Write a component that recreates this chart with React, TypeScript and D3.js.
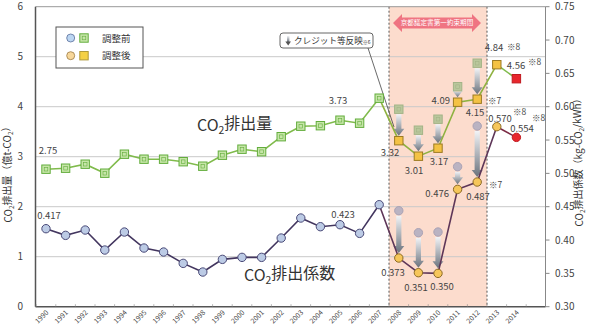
import React from "react";
import * as d3 from "d3";

const years = d3.range(1990, 2016).map(String);
const labelYears = d3.range(1990, 2015).map(String);
const beforeYears = d3.range(1990, 2013).map(String);
const afterYears = d3.range(2008, 2015).map(String);
const emissionBefore = [2.75, 2.77, 2.85, 2.67, 3.05, 2.95, 2.95, 2.9, 2.81, 3.03, 3.15, 3.1, 3.4, 3.61, 3.62, 3.73, 3.67, 4.17, 3.95, 3.53, 3.75, 4.4, 4.87];
const emissionAfter = [3.32, 3.01, 3.17, 4.09, 4.15, 4.84, 4.56];
const coefBefore = [0.417, 0.407, 0.415, 0.385, 0.412, 0.388, 0.382, 0.365, 0.352, 0.371, 0.374, 0.374, 0.403, 0.433, 0.42, 0.423, 0.41, 0.453, 0.444, 0.411, 0.412, 0.51, 0.571];
const coefAfter = [0.373, 0.351, 0.35, 0.476, 0.487, 0.57, 0.554];
const leftTicks = [0, 1, 2, 3, 4, 5, 6];
const rightTicks = [0.3, 0.35, 0.4, 0.45, 0.5, 0.55, 0.6, 0.65, 0.7, 0.75];

const FONT = "'Noto Sans CJK JP', 'Noto Sans', sans-serif";
const TOP = 6.7, BOTTOM = 306.7, LEFT = 35.5, RIGHT = 545.5;

export default function App() {
  const x = d3.scaleBand().domain(years).range([36.2, 545.8]).padding(0);
  const cx = (y: string) => (x(y) as number) + x.bandwidth() / 2;
  const yL = d3.scaleLinear().domain([0, 6]).range([BOTTOM, TOP]);
  const yR = d3.scaleLinear().domain([0.3, 0.75]).range([BOTTOM, TOP]);

  const histIdx = d3.range(0, 18); // 1990-2007
  const bandIdx = d3.range(18, 23); // 2008-2012

  const lineE = d3.line<[number, number]>().x((d) => d[0]).y((d) => d[1]);
  const ePtsHist: [number, number][] = histIdx.map((i) => [cx(beforeYears[i]), yL(emissionBefore[i])]);
  const ePtsAfter: [number, number][] = afterYears.slice(0, 6).map((y, i) => [cx(y), yL(emissionAfter[i])]);
  const cPtsHist: [number, number][] = histIdx.map((i) => [cx(beforeYears[i]), yR(coefBefore[i])]);
  const cPtsAfter: [number, number][] = afterYears.slice(0, 6).map((y, i) => [cx(y), yR(coefAfter[i])]);

  const bandX0 = x("2008") as number;
  const bandX1 = (x("2012") as number) + x.bandwidth();

  const arrow = (xc: number, y0: number, y1: number, key: string) => {
    const sw = 2.6, hw = 5.5, hl = 7;
    const p = `M${xc - sw},${y0} L${xc + sw},${y0} L${xc + sw},${y1 - hl} L${xc + hw},${y1 - hl} L${xc},${y1} L${xc - hw},${y1 - hl} L${xc - sw},${y1 - hl} Z`;
    return <path key={key} d={p} fill="url(#arrGrad)" />;
  };

  const sq = (xc: number, yc: number, fill: string, stroke: string, key: string, inner = false) => (
    <g key={key}>
      <rect x={xc - 4.2} y={yc - 4.2} width={8.4} height={8.4} fill={fill} stroke={stroke} strokeWidth={1} />
      {inner && <rect x={xc - 1.8} y={yc - 1.8} width={3.6} height={3.6} fill="none" stroke={stroke} strokeWidth={0.6} />}
    </g>
  );

  const sub = (t: string) => (
    <tspan fontSize="0.65em" dy="0.3em">{t}</tspan>
  );

  const txt = (s: string, xx: number, yy: number, anchor: string = "middle", size = 9.5, key?: string) => (
    <text key={key ?? s + xx} x={xx} y={yy} textAnchor={anchor} fontSize={size} fill="#444" fontFamily={FONT}>{s}</text>
  );

  return (
    <svg width={590} height={333} style={{ position: "absolute", left: 0, top: 0, background: "#fff" }} fontFamily={FONT}>
      <defs>
        <linearGradient id="arrGrad" x1="0" y1="0" x2="0" y2="1">
          <stop offset="0" stopColor="#f2f4f7" />
          <stop offset="1" stopColor="#6a727c" />
        </linearGradient>
      </defs>

      {/* Kyoto band */}
      <rect x={bandX0} y={TOP} width={bandX1 - bandX0} height={BOTTOM - TOP} fill="#fcdccd" />

      {/* grid */}
      {leftTicks.slice(1, 6).map((t) => (
        <line key={"g" + t} x1={LEFT} x2={RIGHT} y1={yL(t)} y2={yL(t)} stroke="#c9c9c9" strokeWidth={1} />
      ))}
      <line x1={bandX0} x2={bandX0} y1={TOP} y2={BOTTOM} stroke="#555" strokeWidth={1} strokeDasharray="2,2" />
      <line x1={bandX1} x2={bandX1} y1={TOP} y2={BOTTOM} stroke="#555" strokeWidth={1} strokeDasharray="2,2" />

      {/* frame */}
      <line x1={LEFT} x2={RIGHT} y1={TOP} y2={TOP} stroke="#999" strokeWidth={1} />
      <line x1={RIGHT} x2={RIGHT} y1={TOP} y2={BOTTOM} stroke="#888" strokeWidth={1} />
      <line x1={LEFT} x2={LEFT} y1={TOP} y2={BOTTOM} stroke="#555" strokeWidth={1.5} />
      <line x1={LEFT} x2={RIGHT} y1={BOTTOM} y2={BOTTOM} stroke="#555" strokeWidth={1.5} />

      {/* left ticks */}
      {leftTicks.map((t) => (
        <text key={"lt" + t} x={23} y={yL(t) + 3.5} textAnchor="end" fontSize={10} fill="#444">{t}</text>
      ))}
      {/* right ticks */}
      {rightTicks.map((t) => (
        <g key={"rt" + t}>
          <line x1={RIGHT} x2={RIGHT + 4} y1={yR(t)} y2={yR(t)} stroke="#888" />
          <text x={555} y={yR(t) + 3.5} fontSize={10} fill="#444">{t.toFixed(2)}</text>
        </g>
      ))}
      {/* x ticks */}
      {years.map((y) => (
        <line key={"xt" + y} x1={x(y) as number} x2={x(y) as number} y1={BOTTOM} y2={BOTTOM - 2.5} stroke="#888" strokeWidth={0.6} />
      ))}
      {labelYears.map((y) => (
        <text key={"xl" + y} transform={`translate(${cx(y) + 3},${313}) rotate(-45)`} textAnchor="end" fontSize={7} fill="#444">{y}</text>
      ))}

      {/* axis titles */}
      <text transform={`translate(12,172) rotate(-90)`} textAnchor="middle" fontSize={10} fill="#333">
        CO{sub("2")}<tspan dy="-0.3em">排出量（億t-CO</tspan>{sub("2")}<tspan dy="-0.3em">）</tspan>
      </text>
      <text transform={`translate(583,160) rotate(-90)`} textAnchor="middle" fontSize={10} fill="#333">
        CO{sub("2")}<tspan dy="-0.3em">排出係数（kg-CO</tspan>{sub("2")}<tspan dy="-0.3em">/kWh）</tspan>
      </text>

      {/* Kyoto arrow */}
      {(() => {
        const x0 = 393, x1 = 481, yc = 23, sh = 5.5, hh = 9, hl = 9;
        const p = `M${x0},${yc} L${x0 + hl},${yc - hh} L${x0 + hl},${yc - sh} L${x1 - hl},${yc - sh} L${x1 - hl},${yc - hh} L${x1},${yc} L${x1 - hl},${yc + hh} L${x1 - hl},${yc + sh} L${x0 + hl},${yc + sh} L${x0 + hl},${yc + hh} Z`;
        return (
          <g>
            <path d={p} fill="#ef7482" />
            <text x={(x0 + x1) / 2} y={yc + 2.4} textAnchor="middle" fontSize={6.6} fill="#fff">京都議定書第一約束期間</text>
          </g>
        );
      })()}

      {/* Callout */}
      <line x1={368} y1={48} x2={394} y2={127} stroke="#444" strokeWidth={0.8} />
      <rect x={280} y={33} width={93} height={15} rx={3} fill="#fff" stroke="#555" strokeWidth={0.9} />
      <rect x={287} y={36} width={2.4} height={6} fill="url(#arrGrad)" />
      <path d="M285.3,41.5 L291,41.5 L288.2,45.5 Z" fill="#555" />
      <text x={294} y={44} fontSize={8.6} fill="#333">クレジット等反映<tspan fontSize={5}>※6</tspan></text>

      {/* arrows within band */}
      {bandIdx.map((i, k) => arrow(cx(beforeYears[i]), yL(emissionBefore[i]) + 5, yL(emissionAfter[k]) - 5, "ea" + i))}
      {bandIdx.map((i, k) => arrow(cx(beforeYears[i]), yR(coefBefore[i]) + 5, yR(coefAfter[k]) - 5, "ca" + i))}
      {/* faded before markers */}
      {bandIdx.map((i) => sq(cx(beforeYears[i]), yL(emissionBefore[i]), "#b9c79c", "#a3b387", "fs" + i, true))}
      {bandIdx.map((i) => (
        <circle key={"fc" + i} cx={cx(beforeYears[i])} cy={yR(coefBefore[i])} r={4.2} fill="#bab3c2" stroke="#aaa2b4" />
      ))}

      {/* lines */}
      <path d={lineE(ePtsHist) as string} fill="none" stroke="#80bb4c" strokeWidth={1.6} />
      <path d={lineE([ePtsHist[17], ...ePtsAfter]) as string} fill="none" stroke="#8fb241" strokeWidth={1.6} />
      <path d={lineE([ePtsAfter[5], [cx("2014"), yL(emissionAfter[6])]]) as string} fill="none" stroke="#80bb4c" strokeWidth={1.6} />
      <path d={lineE(cPtsHist) as string} fill="none" stroke="#43365f" strokeWidth={1.6} />
      <path d={lineE([cPtsHist[17], ...cPtsAfter]) as string} fill="none" stroke="#5e3658" strokeWidth={1.6} />
      <path d={lineE([cPtsAfter[5], [cx("2014"), yR(coefAfter[6])]]) as string} fill="none" stroke="#7a2a44" strokeWidth={1.6} />

      {/* markers */}
      {histIdx.map((i) => sq(cx(beforeYears[i]), yL(emissionBefore[i]), "#c6e5a8", "#63ad3c", "hs" + i, true))}
      {histIdx.map((i) => (
        <circle key={"hc" + i} cx={cx(beforeYears[i])} cy={yR(coefBefore[i])} r={4.2} fill="#bccbe5" stroke="#4a4a78" strokeWidth={1} />
      ))}
      {afterYears.slice(0, 6).map((y, k) => sq(cx(y), yL(emissionAfter[k]), "#f4c244", "#9c7a22", "as" + y))}
      {afterYears.slice(0, 6).map((y, k) => (
        <circle key={"ac" + y} cx={cx(y)} cy={yR(coefAfter[k])} r={4.2} fill="#f6c65a" stroke="#8c6a24" strokeWidth={1} />
      ))}
      {sq(cx("2014"), yL(emissionAfter[6]), "#e8262c", "#c01a20", "red-sq")}
      <circle cx={cx("2014")} cy={yR(coefAfter[6])} r={4.2} fill="#e8262c" stroke="#c01a20" />

      {/* data labels */}
      {txt("2.75", 48, 154)}
      {txt("0.417", 49, 219)}
      {txt("3.73", 338, 104)}
      {txt("0.423", 343, 218)}
      {txt("3.32", 390, 156)}
      {txt("3.01", 414, 174)}
      {txt("3.17", 439, 165)}
      {txt("4.09", 450, 104, "end")}
      {txt("4.15", 475, 116)}
      {txt("4.84", 494, 51)}
      {txt("4.56", 516, 69)}
      {txt("0.570", 500, 122)}
      {txt("0.554", 522, 132)}
      {txt("0.373", 393, 276)}
      {txt("0.351", 416, 291)}
      {txt("0.350", 442, 290)}
      {txt("0.476", 449, 197, "end")}
      {txt("0.487", 478, 200)}
      {txt("※7", 488, 104, "start", 8.5, "n7a")}
      {txt("※7", 489, 188, "start", 8.5, "n7b")}
      {txt("※8", 507, 50, "start", 8.5, "n8a")}
      {txt("※8", 528, 65, "start", 8.5, "n8b")}
      {txt("※8", 513, 115, "start", 8.5, "n8c")}
      {txt("※8", 532, 121, "start", 8.5, "n8d")}

      {/* series names */}
      <text x={197} y={131} fontSize={16} fill="#333">CO{sub("2")}<tspan dy="-0.3em">排出量</tspan></text>
      <text x={244} y={281} fontSize={16} fill="#333">CO{sub("2")}<tspan dy="-0.3em">排出係数</tspan></text>

      {/* legend */}
      <rect x={56} y={27} width={87} height={41} fill="#fff" stroke="#555" strokeWidth={1} />
      <circle cx={70.7} cy={38} r={4} fill="#bcd6f2" stroke="#5b6f9a" strokeWidth={0.8} />
      {sq(84, 38, "#c6e5a8", "#63ad3c", "lg1", true)}
      <text x={102} y={41.5} fontSize={9.5} fill="#333">調整前</text>
      <circle cx={70.7} cy={55.7} r={4} fill="#f7d79a" stroke="#9c7a42" strokeWidth={0.8} />
      {sq(84, 55.7, "#f4d044", "#b09a3a", "lg2")}
      <text x={102} y={59.2} fontSize={9.5} fill="#333">調整後</text>
    </svg>
  );
}
